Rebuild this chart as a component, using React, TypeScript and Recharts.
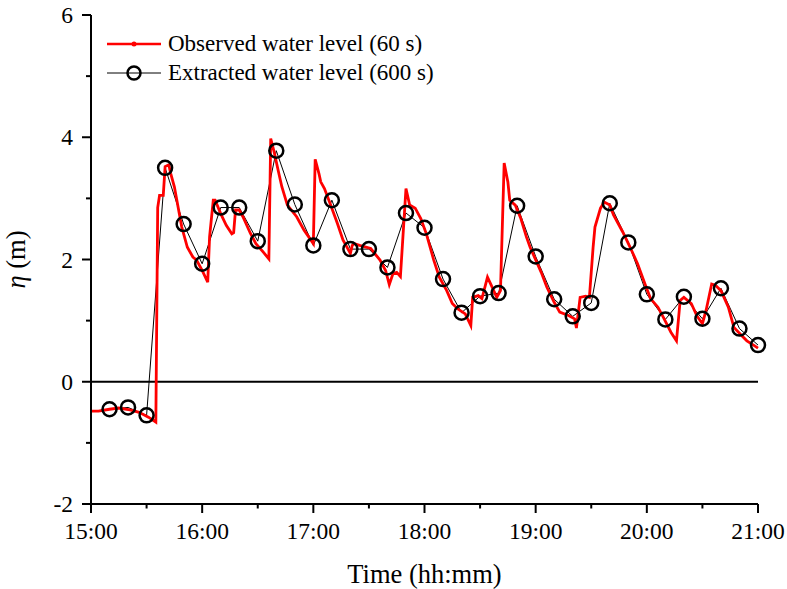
import { LineChart, Line, XAxis, YAxis, ReferenceLine } from "recharts";

// minutes after 15:00, observed (60 s) water level
const OBS_MIN = [
  0, 4, 10, 15, 21, 26, 31, 35, 36, 37, 39, 40, 42, 43, 45, 47, 49, 52, 55, 57,
  60, 63, 64, 66, 67, 70, 73, 76, 77, 78, 80, 82, 86, 89, 93, 96, 97, 99, 101, 103,
  106, 111, 115, 120, 121, 123, 124, 126, 129, 133, 136, 140, 141, 142, 145, 151, 156, 159, 161, 163,
  165, 167, 170, 172, 175, 178, 181, 185, 188, 192, 195, 198, 202, 205, 206, 209, 211, 214, 216, 219,
  221, 223, 225, 226, 229, 232, 235, 237, 243, 246, 250, 253, 258, 261, 262, 264, 267, 269, 271, 272,
  275, 277, 280, 282, 287, 291, 295, 299, 302, 306, 309, 313, 316, 318, 320, 324, 327, 330, 332, 335,
  337, 340, 344, 347, 351, 354, 358, 360,
];
const OBS_LEVEL = [
  -0.48, -0.48, -0.45, -0.43, -0.46, -0.5, -0.58, -0.66, 2.85, 3.05, 3.05, 3.52, 3.55, 3.41, 3.19, 2.86, 2.53, 2.2, 2.04, 1.99,
  1.82, 1.63, 2.37, 2.97, 2.97, 2.75, 2.56, 2.42, 2.44, 2.81, 2.81, 2.7, 2.43, 2.26, 2.12, 2.01, 3.98, 3.74, 3.46, 3.19,
  2.89, 2.7, 2.48, 2.26, 3.64, 3.41, 3.27, 3.16, 2.92, 2.59, 2.32, 2.1, 2.23, 2.26, 2.23, 2.18, 1.99, 1.82, 1.59, 1.77,
  1.79, 1.72, 3.16, 2.89, 2.84, 2.67, 2.42, 1.99, 1.71, 1.49, 1.28, 1.19, 1.11, 0.92, 1.38, 1.41, 1.36, 1.71, 1.58, 1.38,
  1.49, 3.58, 3.27, 2.97, 2.89, 2.67, 2.37, 2.2, 1.79, 1.55, 1.3, 1.14, 1.08, 1.03, 0.88, 1.38, 1.4, 1.38, 2.2, 2.53,
  2.84, 2.94, 2.89, 2.73, 2.45, 2.2, 1.93, 1.6, 1.36, 1.22, 1.05, 0.81, 0.67, 1.33, 1.38, 1.28, 1.08, 0.95, 1.17, 1.6,
  1.58, 1.49, 1.22, 0.89, 0.76, 0.67, 0.59, 0.55,
];

// extracted every 600 s
const EXT_MIN = [
  10, 20, 30, 40, 50, 60, 70, 80, 90, 100, 110, 120, 130, 140, 150, 160, 170, 180,
  190, 200, 210, 220, 230, 240, 250, 260, 270, 280, 290, 300, 310, 320, 330, 340, 350, 360,
];
const EXT_LEVEL = [
  -0.45, -0.42, -0.55, 3.5, 2.58, 1.93, 2.85, 2.85, 2.3, 3.78, 2.9, 2.23, 2.97, 2.17, 2.17, 1.87, 2.76, 2.52,
  1.68, 1.13, 1.4, 1.45, 2.88, 2.05, 1.35, 1.07, 1.29, 2.92, 2.28, 1.43, 1.02, 1.39, 1.03, 1.53, 0.87, 0.6,
];

const X_TICKS = [0, 30, 60, 90, 120, 150, 180, 210, 240, 270, 300, 330, 360];
const X_LABELS = ["15:00", "16:00", "17:00", "18:00", "19:00", "20:00", "21:00"];
const Y_TICKS = [-2, -1, 0, 1, 2, 3, 4, 5, 6];

const SERIES_NAMES = ["Observed water level (60 s)", "Extracted water level (600 s)"];

const FONT = "'Liberation Serif', 'Times New Roman', serif";

const obsData = OBS_MIN.map((t, i) => ({ t, level: OBS_LEVEL[i] }));
const extData = EXT_MIN.map((t, i) => ({ t, level: EXT_LEVEL[i] }));

function XTick({ x, y, payload }: any) {
  const v = payload.value as number;
  const major = v % 60 === 0;
  return (
    <g>
      <line x1={x} x2={x} y1={y} y2={y + (major ? 9 : 4.5)} stroke="#000" strokeWidth={2} />
      {major && (
        <text x={x} y={y + 34.5} textAnchor="middle" fontFamily={FONT} fontSize={23.5} fill="#000">
          {X_LABELS[v / 60]}
        </text>
      )}
    </g>
  );
}

function YTick({ x, y, payload }: any) {
  const v = payload.value as number;
  const major = v % 2 === 0;
  return (
    <g>
      <line x1={x - (major ? 9 : 5)} x2={x} y1={y} y2={y} stroke="#000" strokeWidth={2} />
      {major && (
        <text x={x - 18} y={y} dy="0.35em" textAnchor="end" fontFamily={FONT} fontSize={23.5} fill="#000">
          {v}
        </text>
      )}
    </g>
  );
}

function XTitle({ viewBox }: any) {
  const vb = viewBox || { x: 91, y: 504, width: 666, height: 85 };
  return (
    <text x={vb.x + vb.width / 2} y={583} textAnchor="middle" fontFamily={FONT} fontSize={26.5} fill="#000">
      Time (hh:mm)
    </text>
  );
}

function YTitle({ viewBox }: any) {
  const vb = viewBox || { x: 0, y: 15, width: 91, height: 489 };
  const cx = 25;
  const cy = vb.y + vb.height / 2;
  return (
    <text
      x={cx}
      y={cy}
      transform={`rotate(-90, ${cx}, ${cy})`}
      textAnchor="middle"
      fontFamily={FONT}
      fontSize={26.5}
      fill="#000"
    >
      <tspan fontStyle="italic">η</tspan> (m)
    </text>
  );
}

function LegendBox() {
  const row = { display: "flex", alignItems: "center", height: 29 } as const;
  return (
    <div
      style={{
        position: "absolute",
        left: 106,
        top: 29,
        fontFamily: FONT,
        fontSize: 23,
        color: "#000",
        lineHeight: "29px",
      }}
    >
      <div style={row}>
        <svg width={56} height={20} style={{ marginRight: 6 }}>
          <line x1={1} x2={55} y1={10} y2={10} stroke="#ff0000" strokeWidth={2.5} />
          <circle cx={28} cy={10} r={2.5} fill="#ff0000" />
        </svg>
        <span>{SERIES_NAMES[0]}</span>
      </div>
      <div style={row}>
        <svg width={56} height={20} style={{ marginRight: 6 }}>
          <line x1={1} x2={55} y1={10} y2={10} stroke="#000" strokeWidth={1} />
          <circle cx={28} cy={10} r={6.5} fill="none" stroke="#000" strokeWidth={2.5} />
        </svg>
        <span>{SERIES_NAMES[1]}</span>
      </div>
    </div>
  );
}

export default function App() {
  return (
    <div style={{ position: "absolute", left: 0, top: 0, width: 787, height: 589, background: "#fff" }}>
      <LineChart width={787} height={589} margin={{ top: 15, right: 29, bottom: 0, left: 0 }}>
        <XAxis
          xAxisId="main"
          type="number"
          dataKey="t"
          domain={[0, 360]}
          ticks={X_TICKS}
          interval={0}
          height={85}
          tickSize={0}
          tickMargin={0}
          tickLine={false}
          axisLine={{ stroke: "#000", strokeWidth: 2 }}
          tick={<XTick />}
          label={<XTitle />}
        />
        <XAxis
          xAxisId="top"
          orientation="top"
          type="number"
          dataKey="t"
          domain={[0, 360]}
          height={0}
          tick={false}
          tickLine={false}
          axisLine={{ stroke: "#000", strokeWidth: 2 }}
        />
        <YAxis
          yAxisId="main"
          type="number"
          domain={[-2, 6]}
          ticks={Y_TICKS}
          interval={0}
          width={91}
          tickSize={0}
          tickMargin={0}
          tickLine={false}
          axisLine={{ stroke: "#000", strokeWidth: 2 }}
          tick={<YTick />}
          label={<YTitle />}
        />
        <YAxis
          yAxisId="right"
          orientation="right"
          type="number"
          domain={[-2, 6]}
          width={0}
          tick={false}
          tickLine={false}
          axisLine={{ stroke: "#000", strokeWidth: 2 }}
        />
        <ReferenceLine xAxisId="main" yAxisId="main" y={0} stroke="#000" strokeWidth={2} />
        <Line
          xAxisId="main"
          yAxisId="main"
          data={extData}
          dataKey="level"
          type="linear"
          stroke="#000"
          strokeWidth={1}
          dot={{ r: 7, stroke: "#000", strokeWidth: 2.5, fill: "none" }}
          isAnimationActive={false}
        />
        <Line
          xAxisId="main"
          yAxisId="main"
          data={obsData}
          dataKey="level"
          type="linear"
          stroke="#ff0000"
          strokeWidth={2.8}
          dot={false}
          isAnimationActive={false}
        />
      </LineChart>
      <LegendBox />
    </div>
  );
}
